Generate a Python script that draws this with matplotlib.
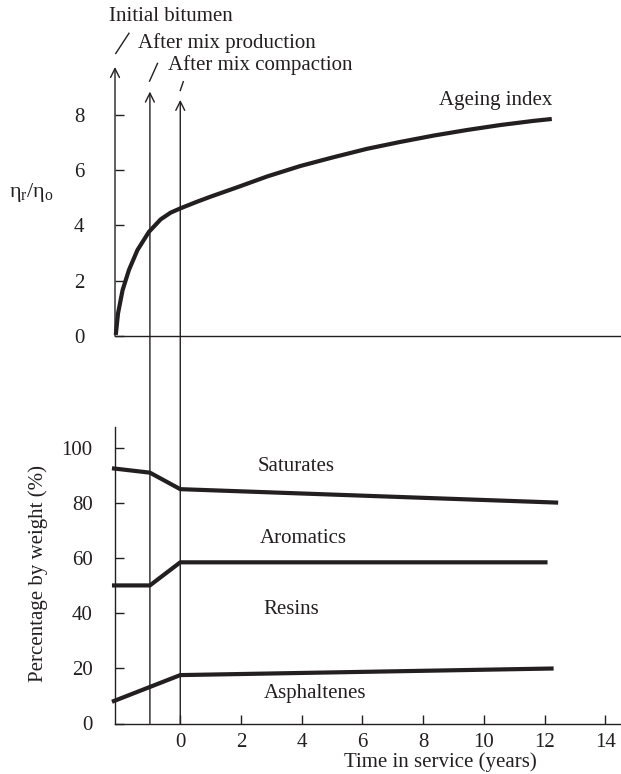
import matplotlib
matplotlib.use("Agg")
import matplotlib.pyplot as plt
from matplotlib.patches import ConnectionPatch

plt.rcParams['font.family'] = ['Liberation Serif', 'DejaVu Serif']
plt.rcParams['font.size'] = 15

INK = '#231f20'

# Ageing index (viscosity ratio) vs time in service
ageing_x = [-2.125, -2.05, -1.90, -1.69, -1.41, -1.03, -0.645, -0.32, 0.01, 0.56, 1.0,
            1.93, 2.86, 3.96, 5.06, 6.15, 7.25, 8.35, 9.44, 10.54, 11.63, 12.24]
ageing_y = [0.04, 0.82, 1.66, 2.39, 3.11, 3.77, 4.22, 4.46, 4.62, 4.86, 5.04,
            5.40, 5.77, 6.15, 6.47, 6.77, 7.02, 7.25, 7.45, 7.63, 7.78, 7.85]

# Composition (% by weight) boundaries
saturates_x = [-2.25, -1.0, 0.0, 12.45]
saturates_y = [92.8, 91.2, 85.2, 80.3]
aromatics_x = [-2.25, -1.0, 0.0, 12.1]
aromatics_y = [50.2, 50.2, 58.6, 58.6]
asphaltenes_x = [-2.25, 0.0, 12.3]
asphaltenes_y = [7.9, 17.6, 20.0]

# event markers: x position and arrow tip height on the ageing axis
events_x = [-2.15, -1.0, 0.0]
event_tips = [9.73, 8.84, 8.54]
event_labels = ["Initial bitumen", "After mix production", "After mix compaction"]

x_ticks = [0, 2, 4, 6, 8, 10, 12, 14]
top_yticks = [0, 2, 4, 6, 8]
bot_yticks = [0, 20, 40, 60, 80, 100]

W, H = 621, 774
fig = plt.figure(figsize=(W / 100, H / 100), dpi=100)

xmin, xmax = -2.15, 14.52
ax1 = fig.add_axes([115 / W, (H - 336) / H, (W - 115) / W, (336 - 67) / H])
ax2 = fig.add_axes([115 / W, (H - 723.5) / H, (W - 115) / W, (723.5 - 427) / H])

# --- top panel: ageing index ---
ax1.set_xlim(xmin, xmax)
ax1.set_ylim(0, 9.73)
for s in ['top', 'right', 'left']:
    ax1.spines[s].set_visible(False)
ax1.spines['bottom'].set_color(INK)
ax1.spines['bottom'].set_linewidth(1.0)
ax1.set_xticks([])
ax1.set_yticks(top_yticks)
ax1.tick_params(axis='y', direction='in', length=6.5, width=1.0, color=INK,
                labelcolor=INK, pad=22)
ax1.plot(ageing_x, ageing_y, color=INK, lw=3.0, solid_capstyle='butt',
         solid_joinstyle='round', clip_on=False)
ax1.annotate('', xy=(events_x[0], event_tips[0]), xytext=(events_x[0], 0),
             arrowprops=dict(arrowstyle='->', color=INK, lw=1.0,
                             shrinkA=0, shrinkB=0, mutation_scale=16),
             annotation_clip=False)
ax1.text(8.54, 8.51, "Ageing index", ha='left', va='center', color=INK)

# event arrows running through both panels
for ex, tip in zip(events_x[1:], event_tips[1:]):
    con = ConnectionPatch(xyA=(ex, 0), coordsA='data', axesA=ax2,
                          xyB=(ex, tip), coordsB='data', axesB=ax1,
                          arrowstyle='->', color=INK, lw=1.0,
                          shrinkA=0, shrinkB=0, mutation_scale=16)
    fig.add_artist(con)

# leader marks and labels for events
leaders = [((-2.125, 10.22), (-1.69, 10.95)),
           ((-1.01, 9.22), (-0.75, 9.86)),
           ((0.00, 8.88), (0.10, 9.20))]
label_pos = [(-2.36, 11.54), (-1.38, 10.60), (-0.42, 9.80)]
for (p0, p1), (tx, ty), lab in zip(leaders, label_pos, event_labels):
    ax1.plot([p0[0], p1[0]], [p0[1], p1[1]], color=INK, lw=1.0, clip_on=False)
    ax1.text(tx, ty, lab, ha='left', va='center', color=INK, clip_on=False)

fig.text(31 / W, 1 - 192 / H, r'$\mathregular{η_r/η_o}$', ha='center', va='center',
         color=INK, fontsize=16)

# --- bottom panel: composition ---
ax2.set_xlim(xmin, xmax)
ax2.set_ylim(0, 107.8)
for s in ['top', 'right']:
    ax2.spines[s].set_visible(False)
for s in ['left', 'bottom']:
    ax2.spines[s].set_color(INK)
    ax2.spines[s].set_linewidth(1.0)
ax2.set_xticks(x_ticks)
ax2.set_yticks(bot_yticks)
ax2.tick_params(axis='both', direction='in', length=6.5, width=1.0, color=INK,
                labelcolor=INK)
ax2.tick_params(axis='y', pad=16)
ax2.tick_params(axis='x', pad=7)

for xs, ys in [(saturates_x, saturates_y), (aromatics_x, aromatics_y),
               (asphaltenes_x, asphaltenes_y)]:
    ax2.plot(xs, ys, color=INK, lw=3.0, solid_capstyle='butt', clip_on=False)

ax2.text(2.54, 93.4, "Saturates", ha='left', va='center', color=INK)
ax2.text(2.62, 67.3, "Aromatics", ha='left', va='center', color=INK)
ax2.text(2.73, 41.5, "Resins", ha='left', va='center', color=INK)
ax2.text(2.75, 10.9, "Asphaltenes", ha='left', va='center', color=INK)

fig.text(38 / W, 1 - 573 / H, "Percentage by weight (%)", rotation=90,
         ha='center', va='center', color=INK)
fig.text(440 / W, 1 - 762 / H, "Time in service (years)", ha='center', va='center',
         color=INK)

fig.savefig("out.png", dpi=100)
